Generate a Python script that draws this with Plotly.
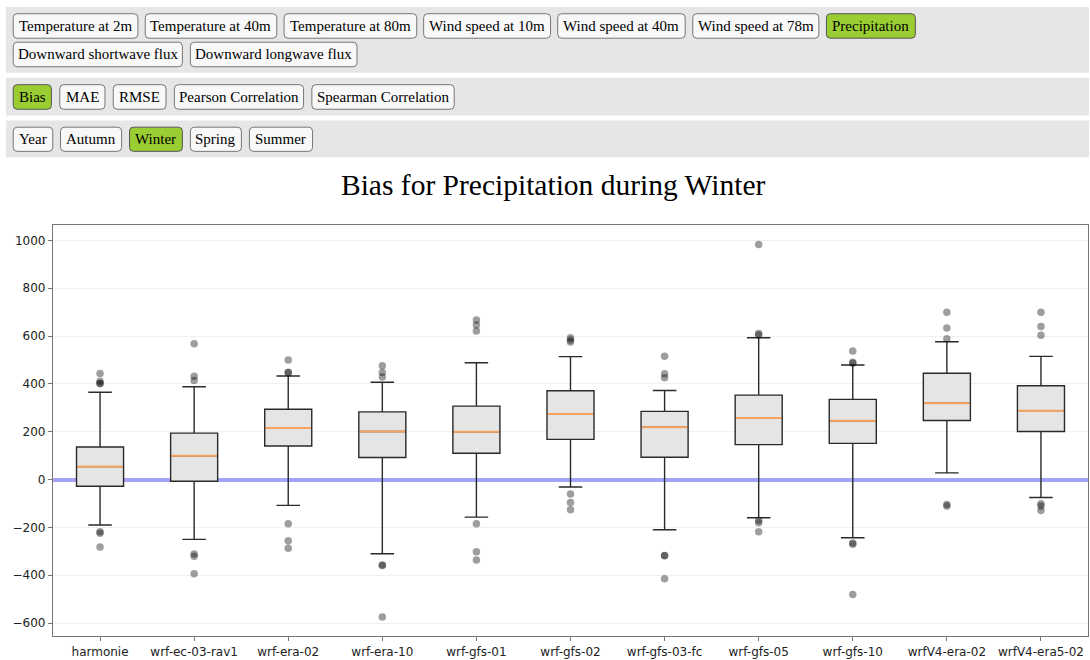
import plotly.graph_objects as go

# ---------------- data ----------------
models = ["harmonie", "wrf-ec-03-rav1", "wrf-era-02", "wrf-era-10", "wrf-gfs-01",
          "wrf-gfs-02", "wrf-gfs-03-fc", "wrf-gfs-05", "wrf-gfs-10",
          "wrfV4-era-02", "wrfV4-era5-02"]
lower_whisker = [-190, -250, -108, -310, -157, -31, -210, -160, -243, 28, -75]
q1 = [-28, -7, 140, 92, 110, 168, 93, 146, 151, 247, 201]
median = [54, 99, 215, 201, 200, 274, 219, 257, 246, 319, 288]
q3 = [136, 194, 294, 283, 307, 371, 285, 353, 335, 444, 392]
upper_whisker = [365, 388, 433, 407, 488, 514, 372, 593, 479, 576, 515]
outliers = [
    [443, 411, 403, 400, -218, -224, -282],
    [568, 432, 414, -311, -321, -394],
    [500, 449, 446, -185, -256, -287],
    [476, 447, 429, -357, -359, -575],
    [667, 646, 621, -185, -302, -336],
    [593, 583, 575, -60, -96, -126],
    [515, 442, 426, -317, -319, -415],
    [983, 610, 604, -171, -181, -218],
    [537, 490, 486, -265, -271, -481],
    [699, 633, 588, -104, -111],
    [699, 640, 603, -101, -111, -129],
]
y_ticks = [-600, -400, -200, 0, 200, 400, 600, 800, 1000]
title_text = "Bias for Precipitation during Winter"

variable_buttons = ["Temperature at 2m", "Temperature at 40m", "Temperature at 80m",
                    "Wind speed at 10m", "Wind speed at 40m", "Wind speed at 78m",
                    "Precipitation", "Downward shortwave flux", "Downward longwave flux"]
metric_buttons = ["Bias", "MAE", "RMSE", "Pearson Correlation", "Spearman Correlation"]
season_buttons = ["Year", "Autumn", "Winter", "Spring", "Summer"]
active = {"Precipitation", "Bias", "Winter"}

# ---------------- layout geometry (pixels) ----------------
W, H = 1090, 660
PL, PR, PT, PB = 53, 1089, 225, 638   # plot area edges in pixels


def fx(px):
    return (px - PL) / (PR - PL)


def fy(py):
    return (PB - py) / (PB - PT)


# button pixel boxes: (x0, x1, y0, y1)
R1, R1b, R2, R3 = (12.7, 37.3), (41.3, 66.0), (84.0, 108.7), (126.7, 151.0)
button_boxes = {
    "Temperature at 2m": (13.2, 138.0) + R1,
    "Temperature at 40m": (145.3, 277.0) + R1,
    "Temperature at 80m": (284.3, 417.1) + R1,
    "Wind speed at 10m": (424.0, 551.0) + R1,
    "Wind speed at 40m": (558.2, 685.8) + R1,
    "Wind speed at 78m": (693.4, 819.6) + R1,
    "Precipitation": (827.2, 916.2) + R1,
    "Downward shortwave flux": (13.2, 182.5) + R1b,
    "Downward longwave flux": (190.5, 357.3) + R1b,
    "Bias": (13.2, 51.4) + R2,
    "MAE": (59.8, 105.0) + R2,
    "RMSE": (113.3, 166.1) + R2,
    "Pearson Correlation": (174.5, 303.8) + R2,
    "Spearman Correlation": (312.1, 454.6) + R2,
    "Year": (13.2, 52.8) + R3,
    "Autumn": (60.5, 121.7) + R3,
    "Winter": (129.6, 182.5) + R3,
    "Spring": (190.5, 241.6) + R3,
    "Summer": (249.6, 312.8) + R3,
}
bands = [(6, 72), (77, 115), (120, 157)]

fig = go.Figure()

# boxes
fig.add_trace(go.Box(
    x=models, q1=q1, median=median, q3=q3,
    lowerfence=lower_whisker, upperfence=upper_whisker,
    fillcolor="#e5e5e5", line=dict(color="#2a2a2a", width=1.4),
    width=0.5, whiskerwidth=0.5, boxpoints=False, hoverinfo="skip",
    showlegend=False,
))

# medians in orange (line-ew marker length = 1.4 * size)
fig.add_trace(go.Scatter(
    x=models, y=median, mode="markers",
    marker=dict(symbol="line-ew", size=32.6, line=dict(color="#f5a35f", width=2)),
    hoverinfo="skip", showlegend=False,
))

# outliers
ox, oy = [], []
for m, vals in zip(models, outliers):
    for v in vals:
        ox.append(m)
        oy.append(v)
fig.add_trace(go.Scatter(
    x=ox, y=oy, mode="markers",
    marker=dict(color="rgba(0,0,0,0.38)", size=7.5, line=dict(width=0)),
    hoverinfo="skip", showlegend=False,
))

shapes = []
# gray bands
for (y0, y1) in bands:
    shapes.append(dict(type="rect", xref="paper", yref="paper",
                       x0=fx(6), x1=fx(1090), y0=fy(y1), y1=fy(y0),
                       fillcolor="#e6e6e6", line=dict(width=0), layer="below"))


def rounded(x0, x1, y0, y1, r=4):
    X0, X1 = fx(x0), fx(x1)
    Ytop, Ybot = fy(y0), fy(y1)
    rx = r / (PR - PL)
    ry = r / (PB - PT)
    return (f"M {X0+rx},{Ytop} L {X1-rx},{Ytop} Q {X1},{Ytop} {X1},{Ytop-ry} "
            f"L {X1},{Ybot+ry} Q {X1},{Ybot} {X1-rx},{Ybot} "
            f"L {X0+rx},{Ybot} Q {X0},{Ybot} {X0},{Ybot+ry} "
            f"L {X0},{Ytop-ry} Q {X0},{Ytop} {X0+rx},{Ytop} Z")


annotations = []
for label in variable_buttons + metric_buttons + season_buttons:
    x0, x1, y0, y1 = button_boxes[label]
    is_on = label in active
    shapes.append(dict(type="path", xref="paper", yref="paper",
                       path=rounded(x0, x1, y0, y1),
                       fillcolor="#9acd32" if is_on else "#f8f8f8",
                       line=dict(color="#555555" if is_on else "#767676", width=1),
                       layer="above"))
    annotations.append(dict(xref="paper", yref="paper",
                            x=fx((x0 + x1) / 2), y=fy((y0 + y1) / 2),
                            text=label, showarrow=False,
                            xanchor="center", yanchor="middle",
                            font=dict(family="Liberation Serif", size=15, color="#000")))

# title
annotations.append(dict(xref="paper", yref="paper", x=fx(553), y=fy(185),
                        text=title_text, showarrow=False,
                        xanchor="center", yanchor="middle",
                        font=dict(family="Liberation Serif", size=29.5, color="#000")))

fig.update_layout(
    width=W, height=H,
    margin=dict(l=PL, r=W - PR, t=PT, b=H - PB, pad=0),
    paper_bgcolor="white", plot_bgcolor="white",
    shapes=shapes, annotations=annotations,
    showlegend=False,
    xaxis=dict(type="category", range=[-0.5, 10.5], showgrid=False,
               showline=True, mirror=True, linecolor="#777", linewidth=1.3,
               ticks="outside", ticklen=4, tickcolor="#777", tickwidth=1,
               tickfont=dict(family="DejaVu Sans", size=12, color="#222"),
               zeroline=False, fixedrange=True),
    yaxis=dict(range=[-654, 1064], tickvals=y_ticks,
               ticktext=[str(v).replace("-", "\u2212") for v in y_ticks],
               showgrid=True, gridcolor="#f0f0f0", gridwidth=1,
               showline=True, mirror=True, linecolor="#777", linewidth=1.3,
               ticks="outside", ticklen=4, tickcolor="#777", tickwidth=1,
               tickfont=dict(family="DejaVu Sans", size=12, color="#222"),
               zeroline=True, zerolinecolor="#a3a3fb", zerolinewidth=4,
               fixedrange=True),
)

fig.write_html("out.html", config={"displayModeBar": False},
               post_script="document.body.style.margin='0';document.body.style.overflow='hidden';")
